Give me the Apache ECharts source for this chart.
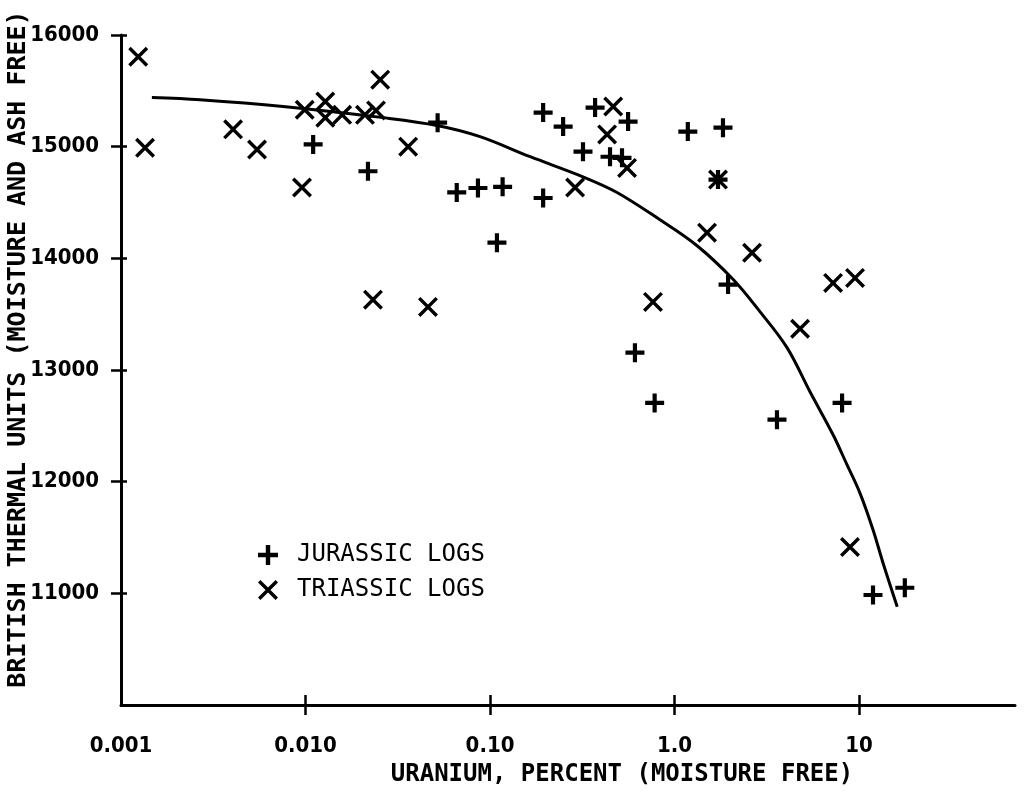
<!DOCTYPE html>
<html>
<head>
<meta charset="utf-8">
<script src="https://cdn.jsdelivr.net/npm/echarts@6/dist/echarts.min.js"></script>
<style>
  html, body { margin: 0; padding: 0; background: #ffffff; }
  #chart { width: 1034px; height: 800px; }
</style>
</head>
<body>
<div id="chart"></div>
<script>
// Uranium content vs. heating value of coalified logs
const seriesNames = ['JURASSIC LOGS', 'TRIASSIC LOGS'];

// [uranium %, BTU]
const jurassicLogs = [
  [0.011, 15020], [0.0218, 14780], [0.052, 15215], [0.066, 14590],
  [0.086, 14630], [0.117, 14640], [0.109, 14140], [0.194, 15305],
  [0.194, 14540], [0.249, 15180], [0.319, 14955], [0.371, 15350],
  [0.447, 14910], [0.519, 14900], [0.56, 15225], [1.18, 15135],
  [1.83, 15170], [1.72, 14705], [1.95, 13765], [0.61, 13155],
  [0.78, 12705], [3.59, 12555], [8.09, 12705], [11.9, 10985],
  [17.7, 11050]
];

const triassicLogs = [
  [0.00124, 15805], [0.00135, 14990], [0.00405, 15155], [0.00546, 14975],
  [0.00957, 14635], [0.0099, 15330], [0.0128, 15405], [0.0128, 15260],
  [0.0158, 15285], [0.021, 15285], [0.0241, 15325], [0.0254, 15600],
  [0.036, 15000], [0.0232, 13630], [0.0461, 13565], [0.289, 14635],
  [0.431, 15110], [0.465, 15360], [0.553, 14810], [0.764, 13610],
  [1.50, 14230], [1.72, 14705], [2.63, 14050], [4.79, 13370],
  [7.23, 13780], [9.51, 13825], [8.93, 11415]
];

// hand-fitted trend curve
const trendCurve = [
  [0.00147, 15440], [0.00268, 15420], [0.00755, 15360], [0.0263, 15260],
  [0.0516, 15190], [0.0883, 15090], [0.165, 14910], [0.319, 14730],
  [0.488, 14590], [0.834, 14345], [1.32, 14115], [2.08, 13810],
  [2.91, 13520], [4.07, 13200], [5.42, 12805], [7.23, 12420],
  [8.61, 12150], [10.1, 11900], [11.9, 11570], [13.5, 11270],
  [16.1, 10880]
];

const xTickValues = [0.001, 0.01, 0.1, 1, 10];
const xTickLabels = ['0.001', '0.010', '0.10', '1.0', '10'];
const xTickMarks = [0.01, 0.1, 1, 10];
const yTickValues = [11000, 12000, 13000, 14000, 15000, 16000];
const yTickLabels = ['11000', '12000', '13000', '14000', '15000', '16000'];

const xAxisTitle = 'URANIUM, PERCENT (MOISTURE FREE)';
const yAxisTitle = 'BRITISH THERMAL UNITS (MOISTURE AND ASH FREE)';

// marker shapes: a plus and a diagonal cross
const plusPath = 'path://M-2.2,-10L2.2,-10L2.2,-2.2L10,-2.2L10,2.2L2.2,2.2L2.2,10L-2.2,10L-2.2,2.2L-10,2.2L-10,-2.2L-2.2,-2.2Z';
const crossPath = 'path://M-8.6,-11.4L11.4,8.6L8.6,11.4L-11.4,-8.6Z' +
                  'M-11.4,8.6L8.6,-11.4L11.4,-8.6L-8.6,11.4Z';

const ink = '#000000';
const labelFont = '"DejaVu Sans Condensed", "DejaVu Sans", sans-serif';
const monoFont = '"DejaVu Sans Mono", "Liberation Mono", monospace';

function xLabel(v) {
  for (let i = 0; i < xTickValues.length; i++) {
    if (Math.abs(Math.log10(v) - Math.log10(xTickValues[i])) < 1e-6) return xTickLabels[i];
  }
  return '';
}
function yLabel(v) {
  const i = yTickValues.indexOf(v);
  return i >= 0 ? yTickLabels[i] : '';
}

const option = {
  backgroundColor: '#ffffff',
  animation: false,
  grid: {
    left: 121, right: 19, top: 35, bottom: 95,
    containLabel: false,
    outerBoundsMode: 'none'
  },
  legend: {
    orient: 'vertical',
    left: 253,
    top: 538,
    itemWidth: 20,
    itemHeight: 20,
    itemGap: 11,
    textStyle: {
      fontFamily: monoFont, fontSize: 24, color: ink,
      padding: [0, 0, 0, 14], lineHeight: 20
    },
    data: [
      { name: seriesNames[0], icon: plusPath },
      { name: seriesNames[1], icon: crossPath }
    ]
  },
  xAxis: [
    {
      type: 'log', logBase: 10, min: 0.001, max: 70,
      position: 'bottom',
      splitLine: { show: false },
      name: xAxisTitle,
      nameLocation: 'middle',
      nameGap: 58,
      nameMoveOverlap: false,
      nameTextStyle: {
        fontFamily: monoFont, fontSize: 24, fontWeight: 'bold', color: ink,
        padding: [0, 0, 0, 108]
      },
      axisLine: { show: true, lineStyle: { color: ink, width: 3 } },
      axisTick: {
        show: true, length: 10, customValues: xTickMarks,
        lineStyle: { color: ink, width: 2.5 }
      },
      axisLabel: {
        show: true, margin: 30, customValues: xTickValues,
        formatter: xLabel,
        fontFamily: labelFont, fontSize: 22, fontWeight: 'bold', color: ink
      }
    },
    {
      // carries the upper half of each cross-shaped tick
      type: 'log', logBase: 10, min: 0.001, max: 70,
      position: 'bottom',
      offset: -10,
      splitLine: { show: false },
      axisLine: { show: false },
      axisTick: {
        show: true, length: 10, customValues: xTickMarks,
        lineStyle: { color: ink, width: 2.5 }
      },
      axisLabel: { show: false }
    }
  ],
  yAxis: [
    {
      type: 'value', min: 10000, max: 16000, interval: 1000,
      position: 'left',
      splitLine: { show: false },
      name: yAxisTitle,
      nameLocation: 'middle',
      nameGap: 90,
      nameRotate: 90,
      nameMoveOverlap: false,
      nameTextStyle: {
        fontFamily: monoFont, fontSize: 25, fontWeight: 'bold', color: ink,
        padding: [0, 0, 0, 42]
      },
      axisLine: { show: true, lineStyle: { color: ink, width: 3 } },
      axisTick: {
        show: true, length: 10, customValues: yTickValues,
        lineStyle: { color: ink, width: 2.5 }
      },
      axisLabel: {
        show: true, margin: 22, customValues: yTickValues,
        formatter: yLabel,
        fontFamily: labelFont, fontSize: 22, fontWeight: 'bold', color: ink
      }
    },
    {
      // carries the right half of each cross-shaped tick
      type: 'value', min: 10000, max: 16000, interval: 1000,
      position: 'left',
      offset: -6,
      splitLine: { show: false },
      axisLine: { show: false },
      axisTick: {
        show: true, length: 6, customValues: yTickValues,
        lineStyle: { color: ink, width: 2.5 }
      },
      axisLabel: { show: false }
    }
  ],
  series: [
    {
      name: 'trend',
      type: 'line',
      data: trendCurve,
      smooth: 0.35,
      showSymbol: false,
      symbol: 'none',
      lineStyle: { color: ink, width: 3 },
      z: 2,
      silent: true
    },
    {
      name: seriesNames[0],
      type: 'scatter',
      data: jurassicLogs,
      symbol: plusPath,
      symbolSize: 19,
      itemStyle: { color: ink, opacity: 1 },
      z: 3
    },
    {
      name: seriesNames[1],
      type: 'scatter',
      data: triassicLogs,
      symbol: crossPath,
      symbolSize: 20,
      itemStyle: { color: ink, opacity: 1 },
      z: 3
    }
  ]
};

const chart = echarts.init(document.getElementById('chart'), null, { renderer: 'canvas' });
chart.setOption(option);
</script>
</body>
</html>
